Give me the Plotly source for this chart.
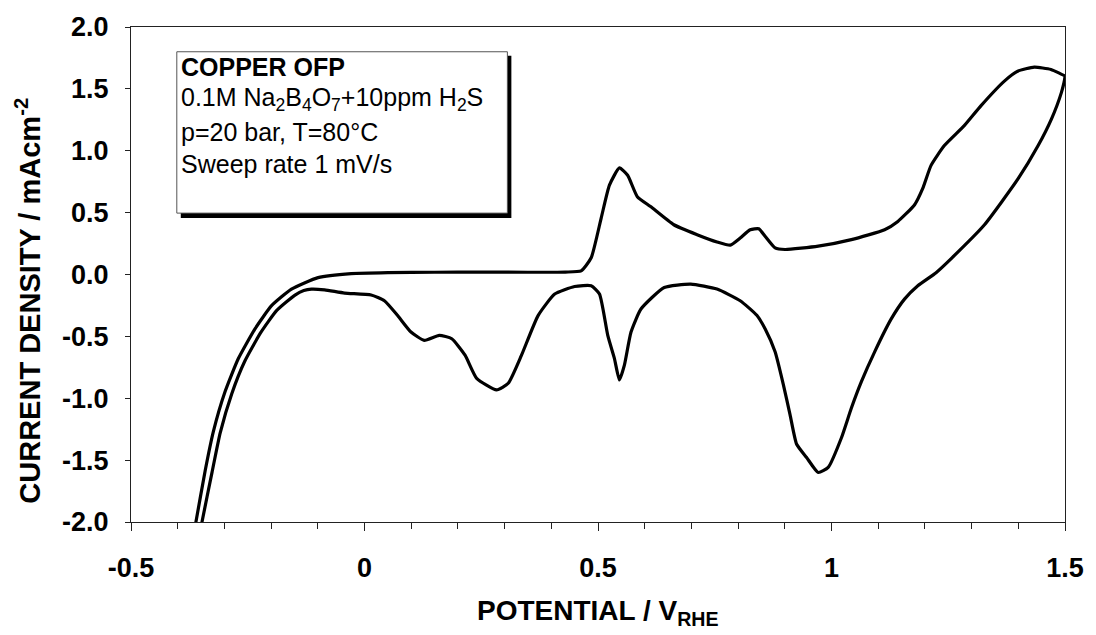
import plotly.graph_objects as go

# Cyclic voltammogram of copper OFP in borate buffer with H2S
# Forward (anodic) sweep: potential in V vs RHE, current density in mA/cm2
fwd_potential = [-0.3634, -0.361, -0.3412, -0.3234, -0.2985, -0.2701, -0.2345, -0.199,
                 -0.1564, -0.0995, -0.0284, 0.05, 0.15, 0.25, 0.35, 0.43, 0.464, 0.4854,
                 0.5068, 0.5245, 0.5458, 0.5635, 0.5842, 0.6126, 0.6624, 0.7122, 0.7548,
                 0.7832, 0.8045, 0.8259, 0.8443, 0.8578, 0.8792, 0.9005, 0.9716, 1.0426,
                 1.1137, 1.1421, 1.1776, 1.1954, 1.2132, 1.2417, 1.2843, 1.3198, 1.3702,
                 1.3987, 1.4342, 1.4698, 1.5]
fwd_current = [-2.05, -2.0, -1.586, -1.266, -0.946, -0.679, -0.439, -0.252,
               -0.118, -0.025, 0.007, 0.015, 0.018, 0.02, 0.018, 0.02, 0.029, 0.135,
               0.456, 0.722, 0.861, 0.802, 0.629, 0.549, 0.402, 0.322, 0.263,
               0.237, 0.295, 0.362, 0.37, 0.309, 0.215, 0.202, 0.229, 0.282,
               0.362, 0.429, 0.562, 0.696, 0.882, 1.042, 1.203, 1.363, 1.563,
               1.643, 1.675, 1.657, 1.603]

# Reverse (cathodic) sweep
rev_potential = [1.5, 1.4922, 1.4709, 1.4425, 1.4, 1.3276, 1.258, 1.2239, 1.1848,
                 1.1563, 1.1279, 1.0924, 1.064, 1.0426, 1.0213, 0.9929, 0.9716, 0.9467,
                 0.9254, 0.9112, 0.897, 0.8792, 0.8578, 0.8401, 0.8045, 0.7548, 0.6986,
                 0.6418, 0.592, 0.5707, 0.5565, 0.5458, 0.5352, 0.5209, 0.5032, 0.4854,
                 0.4499, 0.4073, 0.3717, 0.3362, 0.3078, 0.2828, 0.2402, 0.2153, 0.1869,
                 0.16, 0.1279, 0.0995, 0.071, 0.0426, 0.0142, -0.0426, -0.0853, -0.1137,
                 -0.13, -0.1488, -0.1879, -0.222, -0.2567, -0.2844, -0.309, -0.3264,
                 -0.348, -0.3503]
rev_current = [1.598, 1.47, 1.256, 1.042, 0.776, 0.402, 0.135, 0.015, -0.091,
               -0.199, -0.359, -0.625, -0.866, -1.079, -1.319, -1.559, -1.6, -1.479,
               -1.372, -1.132, -0.892, -0.625, -0.439, -0.33, -0.212, -0.118, -0.078,
               -0.105, -0.279, -0.465, -0.732, -0.852, -0.679, -0.492, -0.158, -0.091,
               -0.097, -0.158, -0.332, -0.652, -0.879, -0.932, -0.839, -0.652, -0.519,
               -0.492, -0.532, -0.465, -0.332, -0.212, -0.166, -0.15, -0.124, -0.118,
               -0.13, -0.166, -0.29, -0.468, -0.703, -0.965, -1.28, -1.597,
               -2.0, -2.05]

x_tickvals = [-0.5, 0, 0.5, 1, 1.5]
x_ticktext = ["-0.5", "0", "0.5", "1", "1.5"]
x_minor = [-0.4, -0.3, -0.2, -0.1, 0.1, 0.2, 0.3, 0.4, 0.6, 0.7, 0.8, 0.9,
           1.1, 1.2, 1.3, 1.4]
y_tickvals = [2.0, 1.5, 1.0, 0.5, 0.0, -0.5, -1.0, -1.5, -2.0]
y_ticktext = ["2.0", "1.5", "1.0", "0.5", "0.0", "-0.5", "-1.0", "-1.5", "-2.0"]

info_lines = [
    "<b>COPPER OFP</b>",
    "0.1M Na<sub>2</sub>B<sub>4</sub>O<sub>7</sub>+10ppm H<sub>2</sub>S",
    "p=20 bar, T=80°C",
    "Sweep rate 1 mV/s",
]

FONT = "Liberation Sans, Arial, sans-serif"

fig = go.Figure()
fig.add_trace(go.Scatter(
    x=fwd_potential + rev_potential,
    y=fwd_current + rev_current,
    mode="lines",
    line=dict(color="black", width=3.2, shape="spline", smoothing=0.5),
    showlegend=False,
    hoverinfo="skip",
))

W, H = 1096, 635
ML, MR, MT, MB = 131, 27, 22, 113
PW, PH = W - ML - MR, H - MT - MB


def px(x):
    return (x - ML) / PW


def py(y):
    return (H - MB - y) / PH


# info box with drop shadow
fig.add_shape(type="rect", xref="paper", yref="paper",
              x0=px(181), x1=px(513), y0=py(215), y1=py(51),
              line=dict(width=0), fillcolor="black")
fig.add_shape(type="rect", xref="paper", yref="paper",
              x0=px(177), x1=px(509), y0=py(210), y1=py(47),
              line=dict(width=1, color="#555"), fillcolor="white")

line_y = [62, 95, 128, 160]
for txt, yy in zip(info_lines, line_y):
    fig.add_annotation(text=txt, xref="paper", yref="paper", x=px(179), y=py(yy),
                       xanchor="left", yanchor="middle", showarrow=False,
                       font=dict(family=FONT, size=25, color="black"))

# axis titles
fig.add_annotation(text="<b>CURRENT DENSITY / mAcm<sup>-2</sup></b>", xref="paper",
                   yref="paper", x=px(28), y=py(298), textangle=-90,
                   xanchor="center", yanchor="middle", showarrow=False,
                   font=dict(family=FONT, size=29, color="black"))
fig.add_annotation(text="<b>POTENTIAL / V<sub>RHE</sub></b>", xref="paper",
                   yref="paper", x=0.5, y=py(613), xanchor="center",
                   yanchor="middle", showarrow=False,
                   font=dict(family=FONT, size=28, color="black"))

fig.update_layout(
    width=W, height=H,
    margin=dict(l=ML, r=MR, t=MT, b=MB, pad=0),
    paper_bgcolor="white", plot_bgcolor="white",
    font=dict(family=FONT, color="black"),
    xaxis=dict(range=[-0.5, 1.5], tickmode="array", tickvals=x_tickvals,
               ticktext=x_ticktext, ticks="outside", ticklen=8, tickwidth=1,
               tickcolor="#222", showline=True, linecolor="#222", linewidth=1,
               mirror=True, showgrid=False, zeroline=False,
               tickfont=dict(family=FONT, size=27, color="black", weight="bold"),
               ticklabelstandoff=14,
               minor=dict(tickvals=x_minor, ticks="outside", ticklen=6,
                          tickcolor="#222", tickwidth=1, showgrid=False)),
    yaxis=dict(range=[-2, 2], tickmode="array", tickvals=y_tickvals,
               ticktext=y_ticktext, ticks="outside", ticklen=5, tickwidth=1,
               tickcolor="#222", showline=True, linecolor="#222", linewidth=1,
               mirror=True, showgrid=False, zeroline=False,
               tickfont=dict(family=FONT, size=27, color="black", weight="bold"),
               ticklabelstandoff=11),
)

fig.write_html("out.html")
